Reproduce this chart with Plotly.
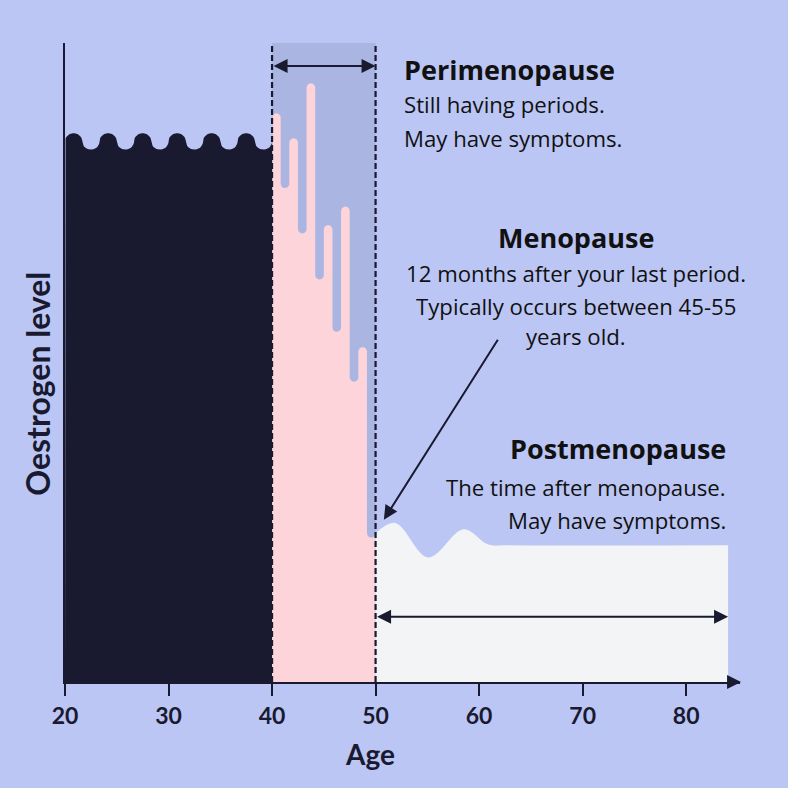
import numpy as np
import plotly.graph_objects as go

# ---------------- colours ----------------
BG = "#BBC6F5"
RECT = "#AAB5E2"
DARK = "#191A30"
PINK = "#FDD4DA"
WHITE = "#F3F4F6"
TEXT = "#111111"

# ---------------- data ----------------
tick_ages = [20, 30, 40, 50, 60, 70, 80]
age_start = 20
peri_start = 40
post_start = 50
age_end = 84.05

# reproductive years: steady level with a monthly-cycle wave
pre_level = 84.6
pre_wave_amp = 1.28
pre_wave_cycles = 6

# perimenopause: fluctuating levels (peaks / troughs)
peri_peaks = [89.0, 85.1, 93.7, 71.5, 74.4, 52.4]
peri_troughs = [77.3, 70.2, 63.0, 54.8, 47.0, 22.6]
peri_round = 0.68  # rounding of bar ends (level units)

# postmenopause
post_age = [50.0, 51.9, 55.1, 58.5, 60.9, 62.8, 84.05]
post_level = [23.3, 24.9, 19.5, 23.9, 21.5, 21.4, 21.4]

# arrows
peri_arrow_level = 96.4
post_arrow_level = 10.2
meno_arrow_tip = (50.8, 25.4)
meno_arrow_tail = (61.9, 53.8)


def arc(cx, cy, rx, ry, sign, n=18):
    t = np.linspace(np.pi, 0, n)
    return list(cx + rx * np.cos(t)), list(cy + sign * ry * np.sin(t))


# reproductive wave outline
half = (peri_start - age_start) / (2 * pre_wave_cycles)
px, py = [age_start], [0]
for k in range(2 * pre_wave_cycles):
    cx = age_start + half * (k + 0.5)
    sign = 1 if k % 2 == 0 else -1
    ax_, ay_ = arc(cx, pre_level, half / 2, pre_wave_amp, sign)
    px += ax_
    py += ay_
px.append(peri_start)
py.append(0)

# perimenopause outline
nb = 2 * len(peri_peaks)
w = (post_start - peri_start) / nb
qx, qy = [peri_start], [0]
a = peri_start
for T, D in zip(peri_peaks, peri_troughs):
    ax_, ay_ = arc(a + w / 2, T - peri_round, w / 2, peri_round, 1)
    qx += ax_
    qy += ay_
    ax_, ay_ = arc(a + 1.5 * w, D + peri_round, w / 2, peri_round, -1)
    qx += ax_
    qy += ay_
    a += 2 * w
qx.append(post_start)
qy.append(0)

fig = go.Figure()
fig.add_trace(go.Scatter(x=px, y=py, fill="toself", fillcolor=DARK, mode="lines",
                         line=dict(width=0, color=DARK), hoverinfo="skip"))
fig.add_trace(go.Scatter(x=qx, y=qy, fill="toself", fillcolor=PINK, mode="lines",
                         line=dict(width=0, color=PINK), hoverinfo="skip"))
fig.add_trace(go.Scatter(x=post_age, y=post_level, fill="tozeroy", fillcolor=WHITE,
                         mode="lines", line=dict(width=0, color=WHITE, shape="spline", smoothing=1.0),
                         hoverinfo="skip"))

shapes = [
    dict(type="rect", xref="x", yref="y", x0=peri_start, x1=post_start, y0=0, y1=100,
         fillcolor=RECT, line=dict(width=0), layer="below"),
]
for xv in (peri_start, post_start):
    shapes.append(dict(type="line", xref="x", yref="y", x0=xv, x1=xv, y0=0, y1=100,
                       line=dict(color=DARK, width=2.2, dash="6px,3px"), layer="above"))

FONT = "Open Sans"
HEAD = 27
BODY = 22.2
ann = []
def txt(x, y, s, size, anchor, bold=False):
    ann.append(dict(x=x, y=y, xref="x", yref="y", text=s, showarrow=False, xanchor=anchor,
                    yanchor="middle",
                    font=dict(family=FONT, size=size, color=TEXT, weight=700 if bold else 400)))

txt(52.56, 95.8, "Perimenopause", HEAD, "left", True)
txt(52.56, 90.3, "Still having periods.", BODY, "left")
txt(52.56, 85.0, "May have symptoms.", BODY, "left")
txt(69.4, 69.5, "Menopause", HEAD, "center", True)
txt(69.4, 64.0, "12 months after your last period.", BODY, "center")
txt(69.4, 58.8, "Typically occurs between 45-55", BODY, "center")
txt(69.4, 54.0, "years old.", BODY, "center")
txt(84.06, 36.6, "Postmenopause", HEAD, "right", True)
txt(84.0, 30.4, "The time after menopause.", BODY, "right")
txt(84.0, 25.2, "May have symptoms.", BODY, "right")

def arrow(x, y, axv, ayv, both=False):
    d = dict(x=x, y=y, ax=axv, ay=ayv, xref="x", yref="y", axref="x", ayref="y",
             text="", showarrow=True, arrowhead=2, arrowsize=1.4, arrowwidth=2,
             arrowcolor=DARK, standoff=0, startstandoff=0)
    if both:
        d.update(arrowside="end+start", startarrowhead=2, startarrowsize=1.4)
    ann.append(d)

arrow(post_start, peri_arrow_level, peri_start, peri_arrow_level, both=True)
arrow(age_end, post_arrow_level, post_start, post_arrow_level, both=True)
arrow(meno_arrow_tip[0], meno_arrow_tip[1], meno_arrow_tail[0], meno_arrow_tail[1])
arrow(85.3, 0, 84.6, 0)

AXFONT = "Lato"
ann.append(dict(x=0.452, y=-0.1127, xref="paper", yref="paper", text="Age", showarrow=False,
                xanchor="center", yanchor="middle",
                font=dict(family=AXFONT, size=28, color=DARK, weight=700)))
ann.append(dict(x=-0.0407, y=0.466, xref="paper", yref="paper", text="Oestrogen level",
                showarrow=False, textangle=-90, xanchor="center", yanchor="middle",
                font=dict(family=AXFONT, size=32, color=DARK, weight=700)))

fig.update_layout(
    width=788, height=788,
    margin=dict(l=65, r=48, t=43, b=106),
    paper_bgcolor=BG, plot_bgcolor=BG,
    showlegend=False,
    shapes=shapes, annotations=ann,
    xaxis=dict(range=[20, 85.2], tickvals=tick_ages, ticktext=[str(t) for t in tick_ages],
               showgrid=False, zeroline=False, showline=True, linecolor=DARK, linewidth=2,
               ticks="outside", ticklen=12, tickwidth=2, tickcolor=DARK,
               tickfont=dict(family=AXFONT, size=23, color=DARK, weight=700), fixedrange=True),
    yaxis=dict(range=[0, 100], showgrid=False, zeroline=False, showline=True, linecolor=DARK,
               linewidth=2, showticklabels=False, ticks="", fixedrange=True),
)

fig.write_html("out.html", config={"displayModeBar": False},
               post_script="document.body.style.margin='0';document.body.style.overflow='hidden';")
